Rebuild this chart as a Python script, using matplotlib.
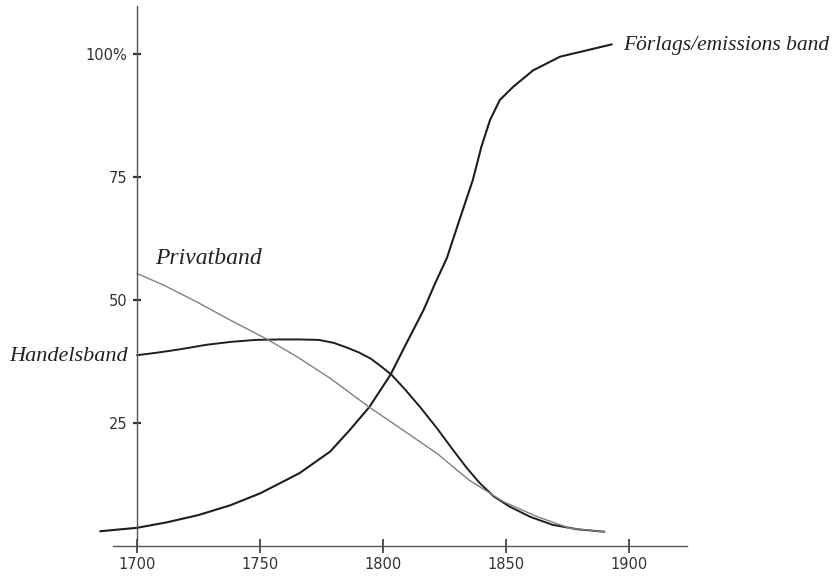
import matplotlib
matplotlib.use("Agg")
import matplotlib.pyplot as plt

# Data (year, percent)
forlag_years = [1685, 1700, 1712, 1725, 1738, 1750, 1766, 1778.5, 1786.5,
                1794.5, 1803, 1809.5, 1816.5, 1821, 1826, 1831, 1836.5,
                1840, 1843.5, 1847.5, 1853, 1861, 1872, 1883, 1893]
forlag_vals = [3.0, 3.7, 4.8, 6.3, 8.3, 10.7, 14.8, 19.2, 23.6,
               28.3, 34.8, 41.2, 48.0, 53.2, 58.6, 66.2, 74.4,
               81.2, 86.6, 90.7, 93.4, 96.7, 99.5, 100.8, 102.0]

privat_years = [1700, 1711, 1724, 1738, 1753, 1765, 1778.5, 1794.5, 1808,
                1822, 1835, 1849, 1862.5, 1876, 1890]
privat_vals = [55.4, 53.0, 49.7, 45.9, 42.0, 38.5, 34.1, 28.2, 23.6,
               18.8, 13.4, 9.0, 6.0, 3.6, 2.9]

handel_years = [1700, 1708, 1717.5, 1728, 1738, 1748, 1758, 1766, 1774,
                1780, 1785, 1790, 1795, 1799, 1803.5, 1809, 1815, 1822,
                1828.5, 1834, 1839.5, 1845, 1851.5, 1860, 1869, 1879, 1890]
handel_vals = [38.8, 39.3, 40.0, 40.9, 41.5, 41.9, 42.0, 42.0, 41.9,
               41.3, 40.4, 39.4, 38.1, 36.6, 34.8, 31.8, 28.3, 23.9,
               19.5, 15.9, 12.7, 10.1, 8.0, 5.9, 4.3, 3.4, 2.9]

x_ticks = [1700, 1750, 1800, 1850, 1900]
x_ticklabels = ["1700", "1750", "1800", "1850", "1900"]
y_ticks = [25, 50, 75, 100]
y_ticklabels = ["25", "50", "75", "100%"]

labels = ["Förlags/emissions band", "Privatband", "Handelsband"]

fig = plt.figure(figsize=(8.39, 5.76), dpi=100)
ax = fig.add_axes([113 / 839, 30 / 576, 574 / 839, 540 / 576])
ax.set_xlim(1690.2, 1923.6)
ax.set_ylim(0, 109.8)

dark = "#1e1e1e"
ax.plot(forlag_years, forlag_vals, color=dark, lw=1.5, solid_capstyle="round",
        solid_joinstyle="round", clip_on=False)
ax.plot(handel_years, handel_vals, color=dark, lw=1.4, solid_capstyle="round",
        solid_joinstyle="round")
ax.plot(privat_years, privat_vals, color="#808080", lw=1.0, solid_capstyle="round",
        solid_joinstyle="round")

for s in ["top", "right"]:
    ax.spines[s].set_visible(False)
ax.spines["left"].set_position(("data", 1700))
ax.spines["left"].set_color("#555555")
ax.spines["bottom"].set_color("#555555")
ax.spines["left"].set_linewidth(1.0)
ax.spines["bottom"].set_linewidth(1.0)

ax.set_xticks(x_ticks)
ax.set_xticklabels(x_ticklabels)
ax.set_yticks(y_ticks)
ax.set_yticklabels(y_ticklabels)
ax.tick_params(axis="x", direction="inout", length=10, width=1.2, colors="#333333",
               labelsize=10.5, pad=3)
ax.tick_params(axis="y", direction="inout", length=6, width=1.6, colors="#333333",
               labelsize=10.5, pad=4)

font = dict(family="Liberation Serif", style="italic", color="#222222")
ax.text(1897.6, 101.8, labels[0], fontsize=15.5, ha="left", va="center",
        clip_on=False, **font)
ax.text(1707.3, 58.5, labels[1], fontsize=17, ha="left", va="center",
        clip_on=False, **font)
ax.text(1696.3, 38.6, labels[2], fontsize=16, ha="right", va="center",
        clip_on=False, **font)

fig.savefig("out.png", dpi=100, facecolor="white")
